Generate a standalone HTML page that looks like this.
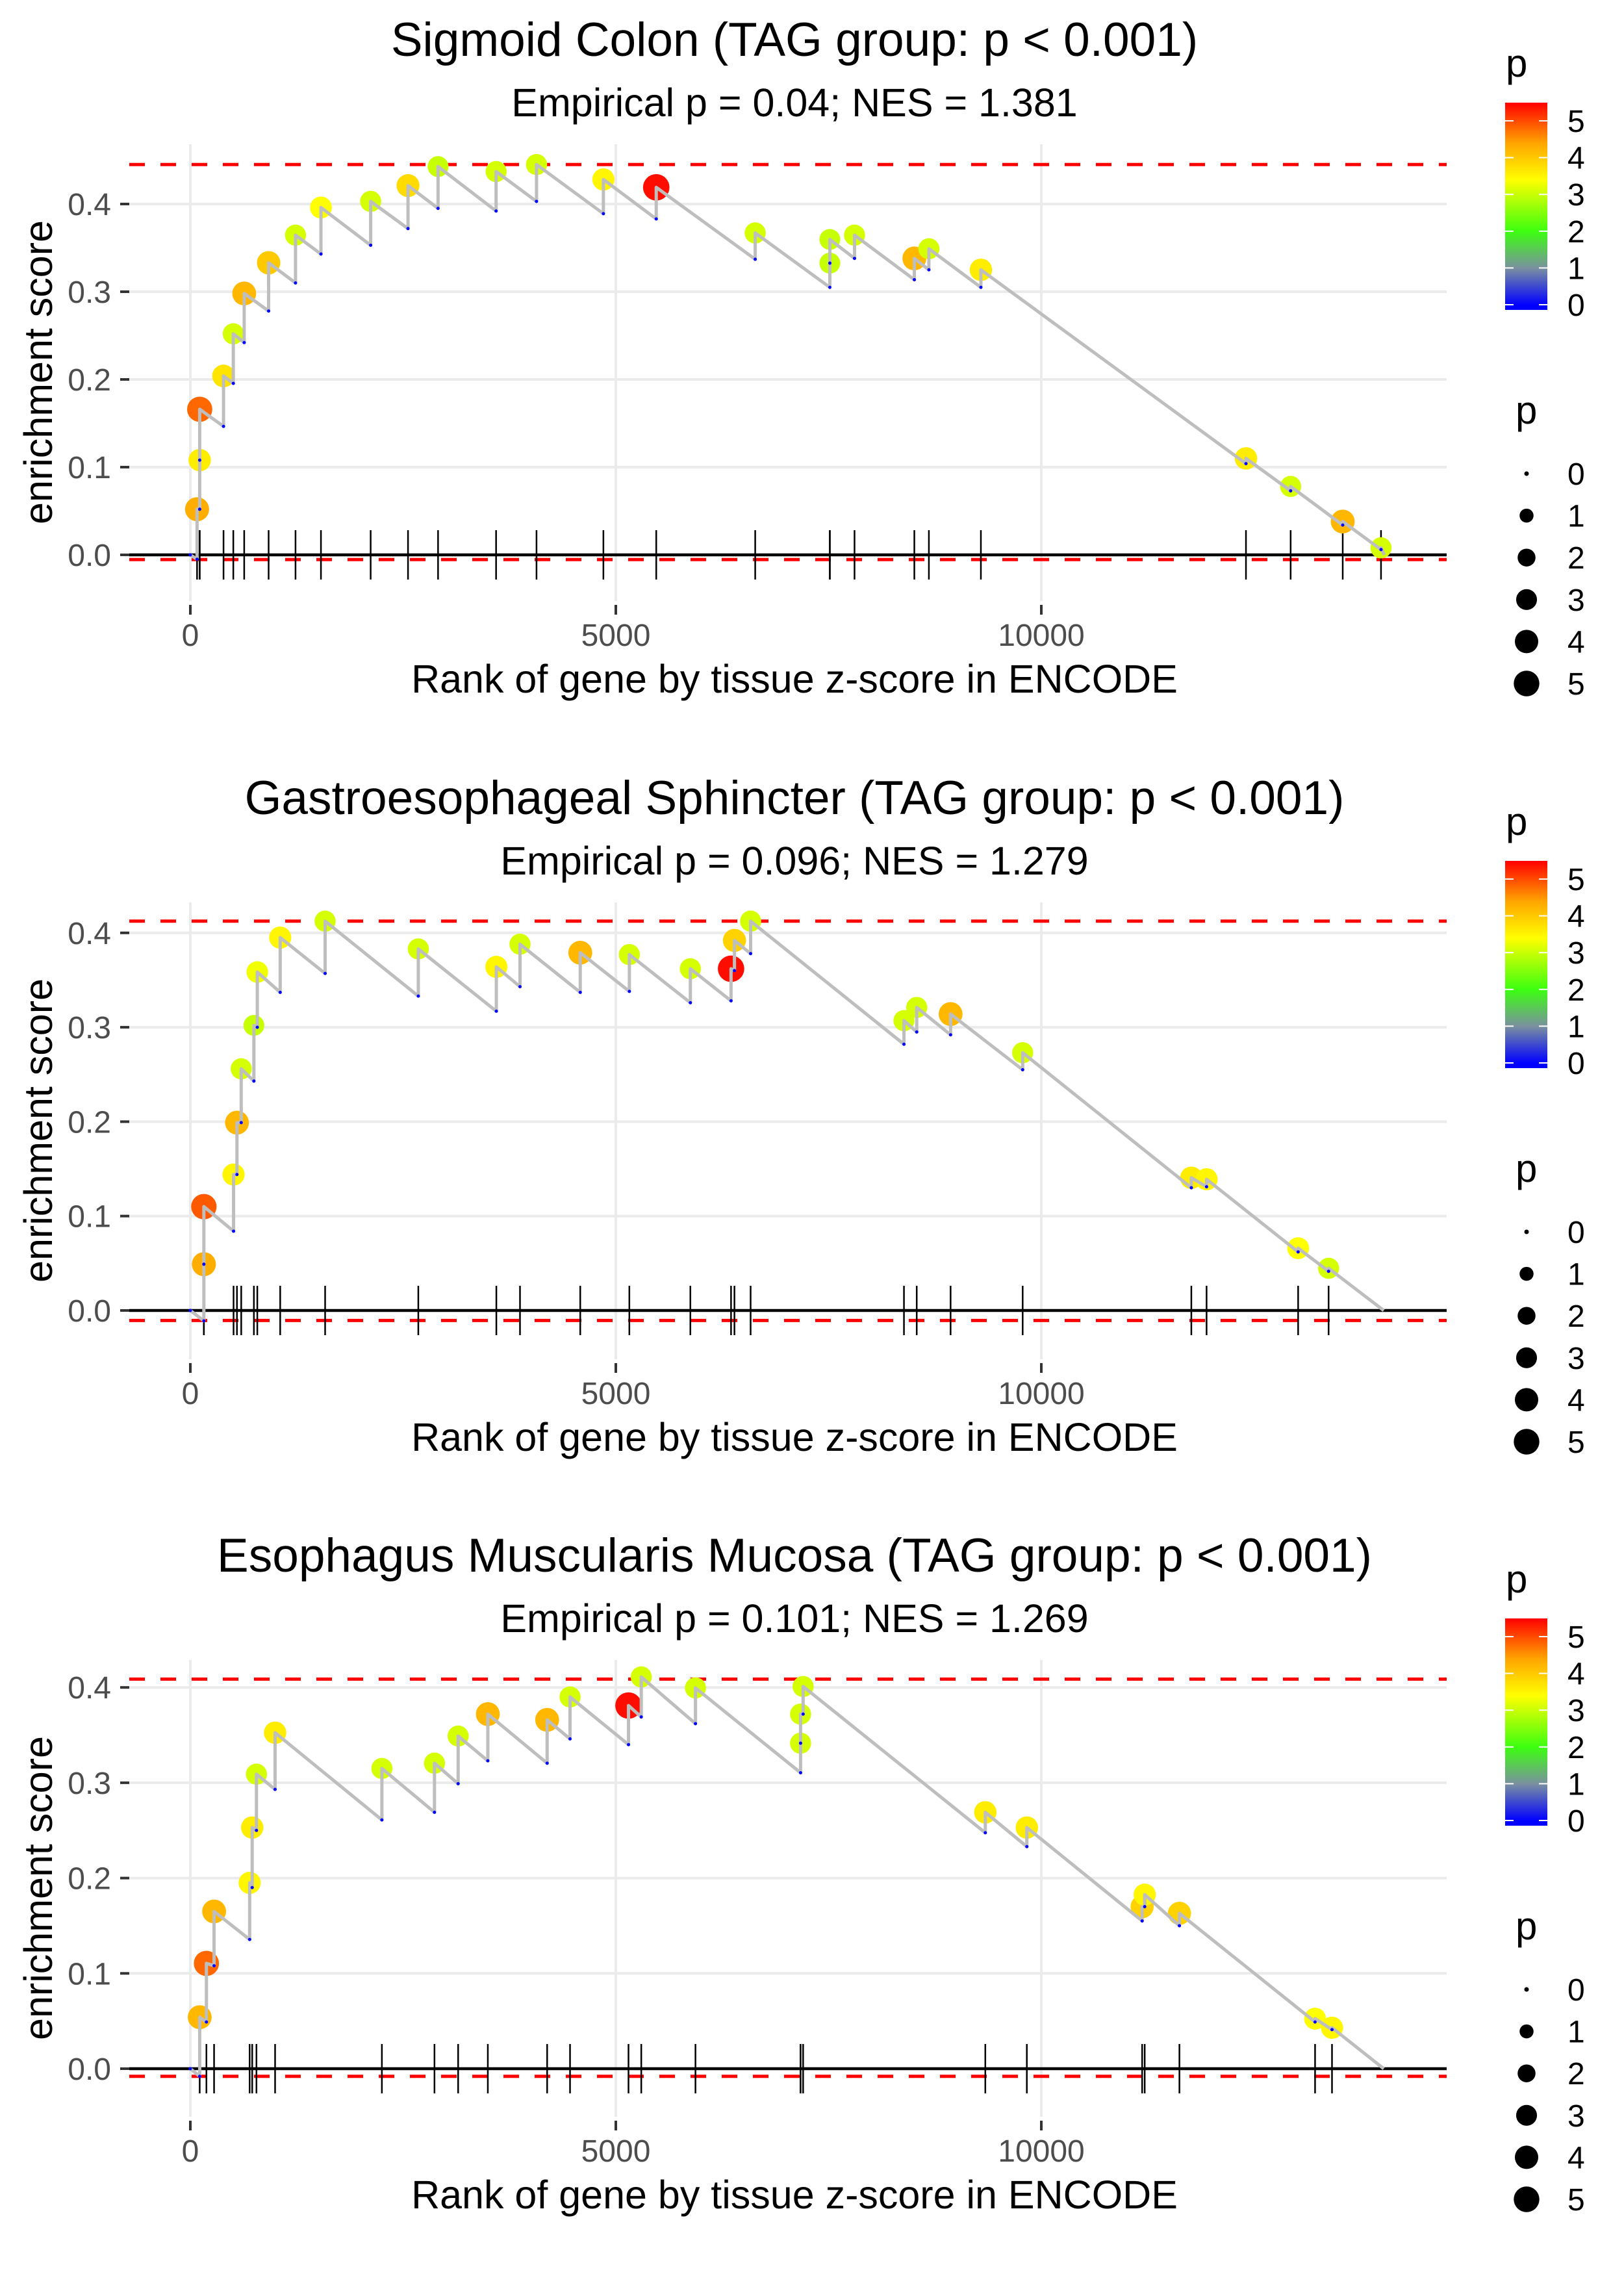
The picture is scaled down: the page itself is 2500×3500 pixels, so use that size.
<!DOCTYPE html>
<html><head><meta charset="utf-8"><style>
html,body{margin:0;padding:0;background:#fff;}
svg{display:block;font-family:"Liberation Sans",Arial,sans-serif;}
</style></head><body>
<svg id="chart" width="2500" height="3500" viewBox="0 0 2500 3500" xmlns="http://www.w3.org/2000/svg">
<defs>
<linearGradient id="pgrad" x1="0" y1="1" x2="0" y2="0">
<stop offset="0.024" stop-color="#0000ff"/>
<stop offset="0.201" stop-color="#7a8fa0"/>
<stop offset="0.379" stop-color="#3cff10"/>
<stop offset="0.627" stop-color="#ffff00"/>
<stop offset="0.805" stop-color="#ffa500"/>
<stop offset="1" stop-color="#ff0000"/>
</linearGradient>
</defs>
</svg>
<script>
// Panel 1 – Sigmoid Colon
const ranks1 = [79,110,110,390,505,633,920,1236,1535,2119,2558,2911,3593,4068,4854,5475,6638,7515,7515,7805,8508,8679,9290,12405,12930,13542,13992];
const peaks1 = [0.052,0.108,0.166,0.204,0.252,0.298,0.333,0.3645,0.396,0.403,0.421,0.4427,0.437,0.445,0.428,0.419,0.367,0.3326,0.3596,0.3645,0.338,0.349,0.325,0.110,0.078,0.038,0.008];
const lows1 = [-0.005,0.052,0.108,0.1465,0.1955,0.242,0.278,0.310,0.343,0.353,0.372,0.395,0.392,0.403,0.389,0.383,0.337,0.305,0.3326,0.338,0.3137,0.325,0.305,0.104,0.073,0.034,0.006];
const pvals1 = [4.3,3.6,4.8,3.7,3.1,4.2,4.0,3.1,3.4,3.1,3.8,3.0,3.1,3.1,3.5,5.4,3.1,3.0,3.0,3.1,4.2,3.1,3.6,3.6,3.1,4.2,3.1];
// Panel 2 – Gastroesophageal Sphincter
const ranks2 = [159,159,508,548,598,747,787,1056,1584,2679,3596,3874,4582,5159,5876,6354,6394,6584,8386,8536,8934,9781,11763,11942,13018,13376];
const peaks2 = [0.049,0.110,0.144,0.199,0.256,0.302,0.3585,0.395,0.4124,0.383,0.364,0.388,0.379,0.377,0.362,0.362,0.392,0.4124,0.307,0.321,0.314,0.273,0.1406,0.139,0.066,0.0447];
const lows2 = [-0.011,0.049,0.084,0.144,0.199,0.243,0.30,0.337,0.357,0.333,0.317,0.343,0.337,0.338,0.326,0.328,0.360,0.378,0.282,0.295,0.292,0.255,0.130,0.131,0.062,0.0415];
const pvals2 = [4.3,4.9,3.5,4.2,3.1,3.0,3.3,3.5,3.1,3.1,3.5,3.1,4.2,3.1,3.1,5.4,3.9,3.1,3.1,3.1,4.2,3.1,3.6,3.5,3.4,3.1];
// Panel 3 – Esophagus Muscularis Mucosa
const ranks3 = [110,189,279,697,727,777,996,2251,2869,3147,3496,4193,4462,5149,5299,5936,7171,7171,7201,9342,9830,11185,11215,11623,13217,13416];
const peaks3 = [0.054,0.1105,0.165,0.195,0.253,0.309,0.3525,0.315,0.3205,0.349,0.372,0.366,0.390,0.381,0.411,0.3995,0.3415,0.372,0.401,0.269,0.253,0.170,0.1826,0.163,0.0525,0.043];
const lows3 = [-0.008,0.049,0.108,0.1356,0.19,0.25,0.293,0.261,0.269,0.299,0.323,0.3205,0.346,0.340,0.369,0.362,0.3105,0.3415,0.372,0.2475,0.233,0.155,0.170,0.150,0.049,0.041];
const pvals3 = [4.2,4.8,4.2,3.5,3.6,3.1,3.6,3.1,3.1,3.1,4.2,4.2,3.1,5.4,3.1,3.1,3.1,3.1,3.1,3.6,3.6,3.9,3.5,3.9,3.4,3.5];

const titles = ["Sigmoid Colon (TAG group: p < 0.001)","Gastroesophageal Sphincter (TAG group: p < 0.001)","Esophagus Muscularis Mucosa (TAG group: p < 0.001)"];
const subtitles = ["Empirical p = 0.04; NES = 1.381","Empirical p = 0.096; NES = 1.279","Empirical p = 0.101; NES = 1.269"];
const esMax = [0.445,0.4124,0.4087];
const esMin = [-0.0054,-0.0106,-0.008];
const totalGenes = [14030,14024,14024];
const yTicks = [0,0.1,0.2,0.3,0.4];
const yTickLabels = ["0.0","0.1","0.2","0.3","0.4"];
const xTicks = [0,5000,10000];
const xTickLabels = ["0","5000","10000"];
const legendVals = [0,1,2,3,4,5];

const NS = "http://www.w3.org/2000/svg";
const svg = document.getElementById("chart");
function mk(tag, attrs, parent){const e=document.createElementNS(NS,tag);for(const k in attrs)e.setAttribute(k,attrs[k]);(parent||svg).appendChild(e);return e;}

const stops=[[0,[0,0,255]],[1,[122,143,160]],[2,[60,255,16]],[3.4,[255,255,0]],[4.4,[255,165,0]],[5.49,[255,0,0]]];
function pColor(p){
  if(p<=stops[0][0])return "rgb(0,0,255)";
  for(let i=1;i<stops.length;i++){ if(p<=stops[i][0]){const a=stops[i-1],b=stops[i];const t=(p-a[0])/(b[0]-a[0]);
    return "rgb("+a[1].map((c,j)=>Math.round(c+(b[1][j]-c)*t)).join(",")+")";}}
  return "rgb(255,0,0)";
}
function pRadius(p){return (7+34*Math.sqrt(Math.max(0,p)/5.49))/2;}
function xScale(v){return 293+v*0.1310;}

const panels=[
  {ranks:ranks1,peaks:peaks1,lows:lows1,pv:pvals1,off:0,zero:854,k:1350},
  {ranks:ranks2,peaks:peaks2,lows:lows2,pv:pvals2,off:1167,zero:2017,k:1453},
  {ranks:ranks3,peaks:peaks3,lows:lows3,pv:pvals3,off:2333,zero:3184,k:1467}
];

panels.forEach((P,pi)=>{
  const g=mk("g",{});
  
  
  const o=P.off;
  const yS=v=>P.zero-v*P.k;
  const L=199,R=2227,T=222+o,B=925+o;
  yTicks.forEach(v=>{const l=mk("line",{x1:L,x2:R,y1:yS(v),y2:yS(v),stroke:"#ebebeb","stroke-width":4},g);
    });
  xTicks.forEach(v=>{const l=mk("line",{x1:xScale(v),x2:xScale(v),y1:T,y2:B,stroke:"#ebebeb","stroke-width":4},g);
    });
  [esMax[pi],esMin[pi]].forEach((v,i)=>{const l=mk("line",{x1:L,x2:R,y1:yS(v),y2:yS(v),stroke:"#ff0000","stroke-width":5,"stroke-dasharray":"24 24"},g);
    });
  const zl=mk("line",{x1:L,x2:R,y1:yS(0),y2:yS(0),stroke:"#000","stroke-width":4.5},g);
  
  P.ranks.forEach(r=>{const l=mk("line",{x1:xScale(r),x2:xScale(r),y1:yS(0)-38,y2:yS(0)+38,stroke:"#000","stroke-width":2.5},g);
    });
  P.ranks.forEach((r,i)=>{const c=mk("circle",{cx:xScale(r),cy:yS(P.peaks[i]),r:pRadius(P.pv[i]),fill:pColor(P.pv[i])},g);
    });
  let d="M"+xScale(0)+","+yS(0);
  P.ranks.forEach((r,i)=>{d+=" L"+xScale(r)+","+yS(P.lows[i])+" L"+xScale(r)+","+yS(P.peaks[i]);});
  d+=" L"+xScale(totalGenes[pi])+","+yS(0);
  const path=mk("path",{d:d,fill:"none",stroke:"#bebebe","stroke-width":5,"stroke-linejoin":"round"},g);
  
  const s0=mk("circle",{cx:xScale(0),cy:yS(0),r:2.5,fill:"#0000ff"},g);
  
  P.ranks.forEach((r,i)=>{const c=mk("circle",{cx:xScale(r),cy:yS(P.lows[i]),r:2.5,fill:"#0000ff"},g);
    });
  yTicks.forEach((v,i)=>{const t=mk("line",{x1:185,x2:199,y1:yS(v),y2:yS(v),stroke:"#333","stroke-width":4},g);
    
    const tx=mk("text",{x:171,y:yS(v)+17,"text-anchor":"end","font-size":48,fill:"#4d4d4d"},g);tx.textContent=yTickLabels[i];
    });
  xTicks.forEach((v,i)=>{const t=mk("line",{x1:xScale(v),x2:xScale(v),y1:931+o,y2:946+o,stroke:"#333","stroke-width":4},g);
    
    const tx=mk("text",{x:xScale(v),y:994+o,"text-anchor":"middle","font-size":48,fill:"#4d4d4d"},g);tx.textContent=xTickLabels[i];
    });
  const xt=mk("text",{x:1223,y:1066+o,"text-anchor":"middle","font-size":61,fill:"#000"},g);xt.textContent="Rank of gene by tissue z-score in ENCODE";
  
  const yt=mk("text",{x:0,y:0,"text-anchor":"middle","font-size":61,fill:"#000",transform:"translate(80,"+(573+o)+") rotate(-90)"},g);yt.textContent="enrichment score";
  
  const ti=mk("text",{x:1223,y:86+o,"text-anchor":"middle","font-size":73,fill:"#000"},g);ti.textContent=titles[pi];
  
  const st=mk("text",{x:1223,y:179+o,"text-anchor":"middle","font-size":61,fill:"#000"},g);st.textContent=subtitles[pi];
  
  const ct=mk("text",{x:2318,y:118+o,"font-size":60,fill:"#000"},g);ct.textContent="p";
  
  const bar=mk("rect",{x:2317,y:158+o,width:65,height:319,fill:"url(#pgrad)"},g);
  
  const cbY=v=>469+o-v*56.6;
  legendVals.forEach(v=>{
    mk("line",{x1:2317,x2:2330,y1:cbY(v),y2:cbY(v),stroke:"#fff","stroke-width":2},g);
    mk("line",{x1:2369,x2:2382,y1:cbY(v),y2:cbY(v),stroke:"#fff","stroke-width":2},g);
    const tx=mk("text",{x:2413,y:cbY(v)+17,"font-size":48,fill:"#000"},g);tx.textContent=String(v);
    });
  const sz=mk("text",{x:2333,y:652+o,"font-size":60,fill:"#000"},g);sz.textContent="p";
  
  legendVals.forEach((v,i)=>{const cy=729+o+i*64.6;
    const c=mk("circle",{cx:2350,cy:cy,r:pRadius(v),fill:"#000"},g);
    
    const tx=mk("text",{x:2413,y:cy+17,"font-size":48,fill:"#000"},g);tx.textContent=String(v);
    });
});
</script>
</body></html>
